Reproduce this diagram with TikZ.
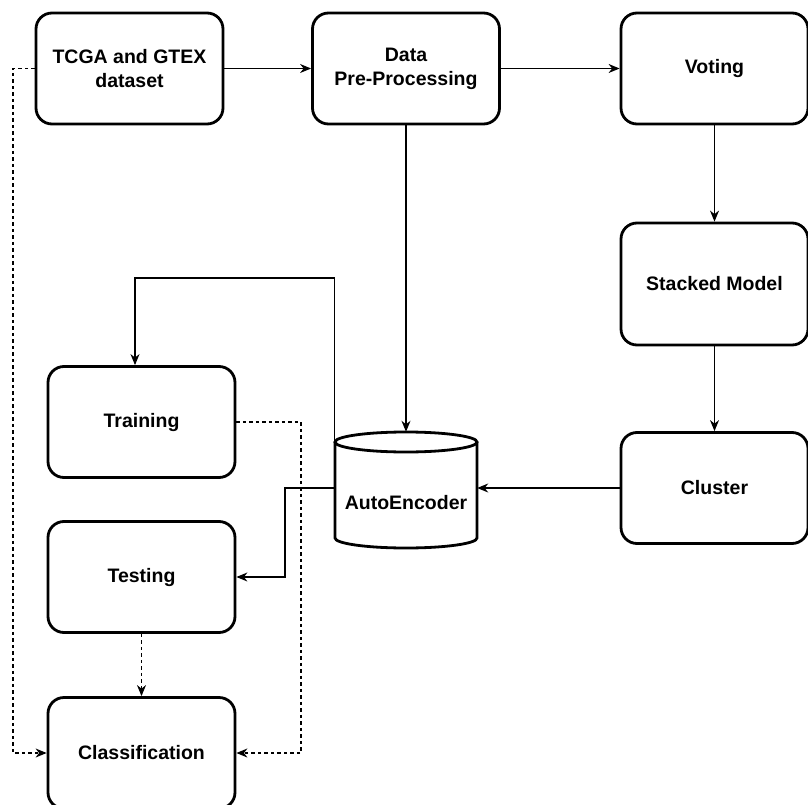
\documentclass[tikz,border=0pt]{standalone}
\usepackage{fontspec}
\setmainfont{Liberation Sans}
\usetikzlibrary{arrows.meta}
\begin{document}
\begin{tikzpicture}[x=1pt,y=-1pt,
  labelfont/.style={font=\fontsize{19.5}{24}\selectfont\bfseries},
  box/.style={draw, line width=2.8pt, rounded corners=16pt, fill=white,
    minimum width=187pt, minimum height=111pt, align=center, labelfont},
  conn/.style={line width=1.2pt, -{Stealth[length=11pt,width=9pt,inset=3.5pt]}},
  dconn/.style={conn, dash pattern=on 3.5pt off 3pt}]
\useasboundingbox (0,0) rectangle (808,805);

% process boxes
\node[box] (tcga)  at (129.5,68.5) {TCGA and GTEX\\dataset};
\node[box] (data)  at (406,68.5)   {Data\\Pre-Processing};
\node[box] (vote)  at (714.5,68.5) {Voting};
\node[box, minimum height=122pt] (stack) at (714.5,284) {Stacked Model};
\node[box] (clus)  at (714.5,488)  {Cluster};
\node[box] (train) at (141.5,422)  {Training};
\node[box] (test)  at (141.5,577)  {Testing};
\node[box] (class) at (141.5,753)  {Classification};

% autoencoder cylinder
\node[minimum width=142pt, minimum height=116pt, inner sep=0pt] (ae) at (406,490) {};
\draw[line width=2.8pt, fill=white]
  (335,442) -- (335,538) arc[start angle=180, end angle=360, x radius=71pt, y radius=10pt]
  -- (477,442);
\draw[line width=2.8pt, fill=white] (406,442) ellipse[x radius=71pt, y radius=10pt];
\node[labelfont] (aetext) at (406,503) {AutoEncoder};

% solid connectors
\draw[conn] (tcga) -- (data);
\draw[conn] (data) -- (vote);
\draw[conn] (vote) -- (stack);
\draw[conn] (stack) -- (clus);
\draw[conn] (data.south) -- (ae.north);
\draw[conn] (clus.west) -- (clus.west -| ae.east);

\coordinate (aetop) at ([yshift=-10pt]ae.north west);
\coordinate (tbend) at (135,278);
\draw[conn] (aetop) |- (tbend) -- (tbend |- train.north);

\coordinate (aeleft) at (ae.west |- clus.west);
\coordinate (sbend) at (285,488);
\draw[conn] (aeleft) -- (sbend) |- (test.east);

% dashed connectors
\coordinate (lrail) at (13,68.5);
\draw[dconn] (tcga.west) -- (lrail) |- (class.west);
\coordinate (rrail) at (301,422);
\draw[dconn] (train.east) -- (rrail) |- (class.east);
\draw[dconn] (test.south) -- (class.north);
\end{tikzpicture}
\end{document}
